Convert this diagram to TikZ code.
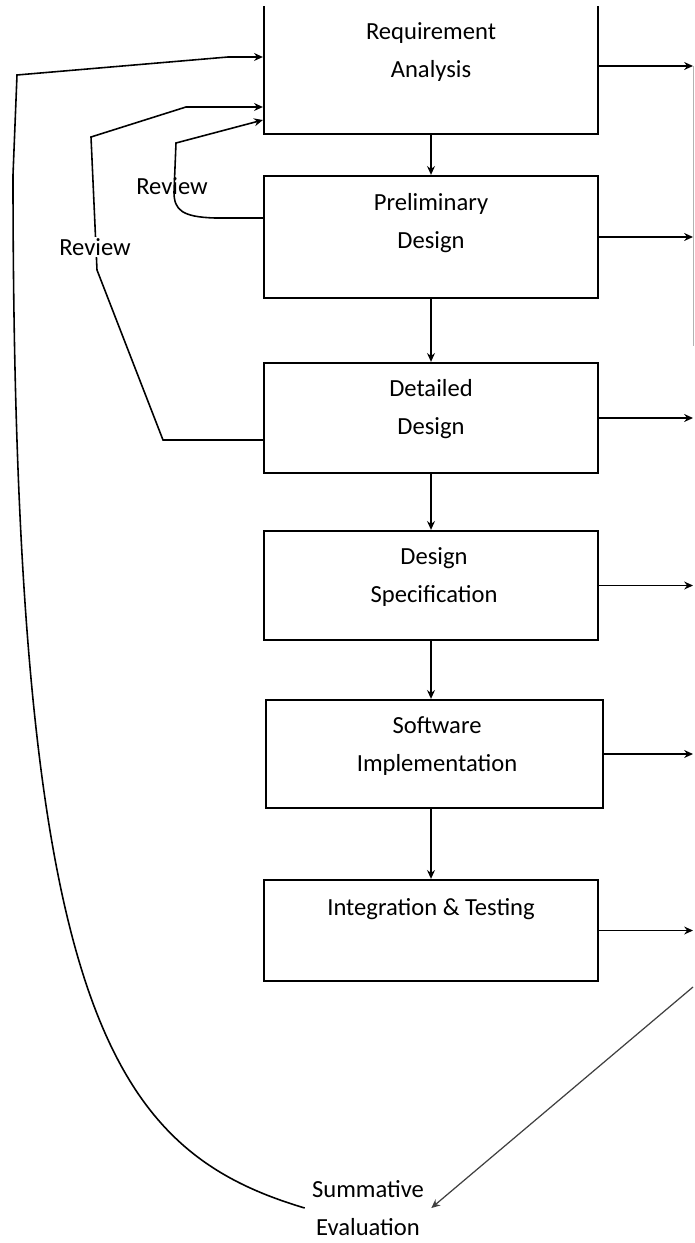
\documentclass[tikz,border=0pt]{standalone}
\usepackage{fontspec}
\setmainfont{Carlito}
\usetikzlibrary{arrows.meta,positioning,calc}

\begin{document}
\begin{tikzpicture}[
  x=0.02cm, y=-0.02cm,
  font=\fontsize{14}{21.5}\selectfont,
  stage/.style={draw, line width=1.3pt, minimum width=6.68cm},
  txt/.style={align=center, inner sep=1pt},
  arr/.style={-{Stealth[length=5pt,width=4.5pt]}, line width=1pt},
  fback/.style={arr, line width=0.9pt},
  faint/.style={line width=0.7pt, black!75}
]
\useasboundingbox (0,0) rectangle (694,1243);
\clip (0,7) rectangle (694,1243);

% the six stages
\node[stage, minimum height=3.08cm] (req) at (431,57) {};
\node[stage, minimum height=2.44cm] (prel) at (431,237) {};
\node[stage, minimum height=2.2cm] (det) at (431,418) {};
\node[stage, minimum height=2.18cm] (spec) at (431,585.5) {};
\node[stage, minimum height=2.16cm, minimum width=6.74cm] (impl) at (434.5,754) {};
\node[stage, minimum height=2.02cm] (integ) at (431,930.5) {};

\node[txt] (reqT) at (431,52) {Requirement\\Analysis};
\node[txt] (prelT) at (431,223) {Preliminary\\Design};
\node[txt] (detT) at (431,409) {Detailed\\Design};
\node[txt] (specT) at (434,577) {Design\\Specification};
\node[txt] (implT) at (437,746) {Software\\Implementation};
\node[txt] (integT) at (431,909) {Integration \& Testing};
\node[txt, inner sep=4pt] (summ) at (368,1208) {Summative\\Evaluation};

% down the chain
\draw[arr] (req) -- (prel);
\draw[arr] (prel) -- (det);
\draw[arr] (det) -- (spec);
\draw[arr] (spec.south) -- (spec.south |- impl.north);
\draw[arr] (impl.south -| integ.north) -- (integ.north);

% outputs on the right
\coordinate (edge) at (693,0);
\coordinate (reqOut) at ($(req.east)+(0,9)$);
\draw[arr] (reqOut) -- (reqOut -| edge);
\foreach \n in {prel,det,spec,impl,integ}
  \draw[arr] (\n.east) -- (\n.east -| edge);
\draw[line width=0.5pt, black!30] (reqOut -| edge) -- ++(0,280);

\coordinate (edgeLow) at (693,987);
\draw[arr, faint] (edgeLow) -- (summ.east);

% review loops
\draw[fback] ($(prel.west)+(0,-19)$) -- (215,218) .. controls (182,217) and (174,210) .. (174,192) -- (176,143) -- ($(req.west)+(0,63)$);
\node[txt] (rev1) at (172,186) {Review};

\draw[fback] ($(det.west)+(0,22)$) -- (163,440) -- (97,270) -- (91,137) -- (186,107) -- ($(req.west)+(0,50)$);
\node[txt, fill=white] (rev2) at (95,247) {Review};

\draw[fback] (summ.west) .. controls (110,1150) and (13,1010) .. (13,175) -- (17,75) -- (228,57) -- (req.west);
\end{tikzpicture}
\end{document}
